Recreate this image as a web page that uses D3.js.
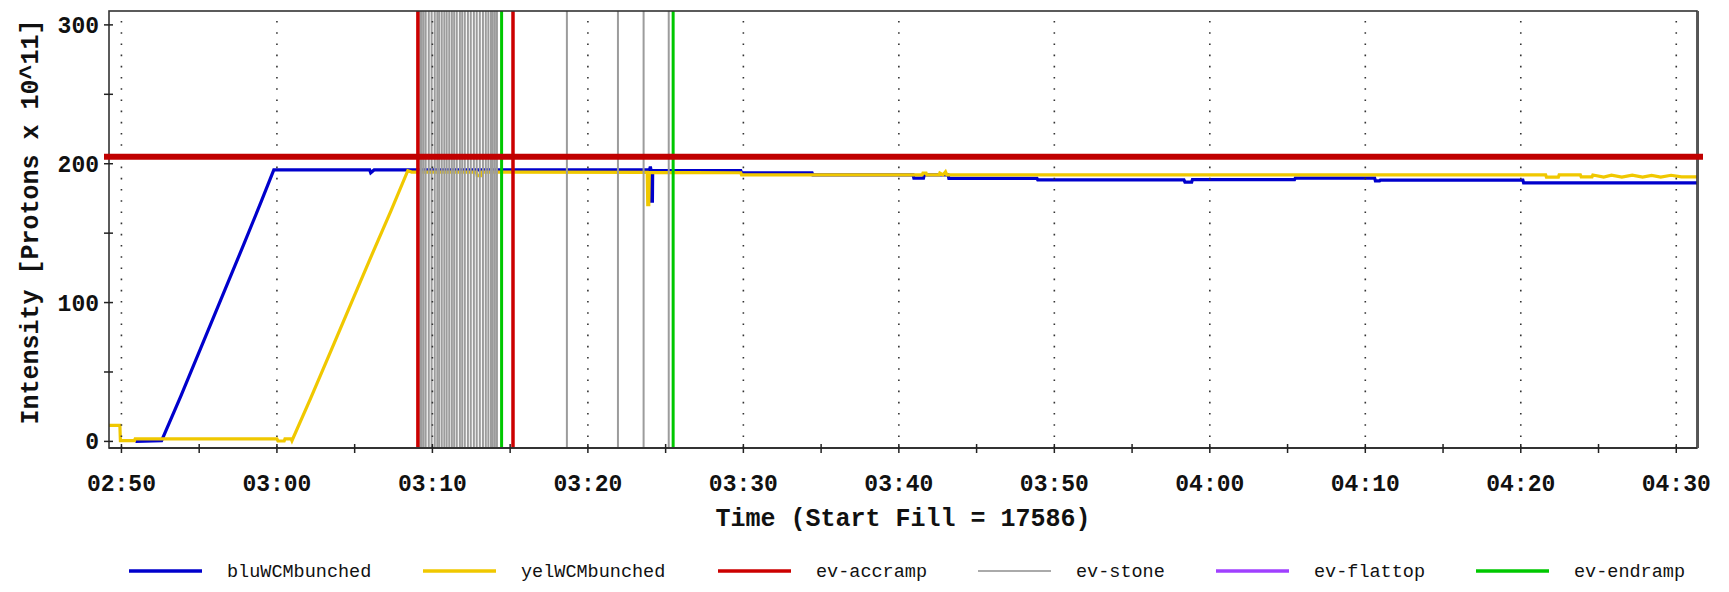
<!DOCTYPE html>
<html><head><meta charset="utf-8">
<script src="https://cdn.jsdelivr.net/npm/d3@7"></script>
<style>
body{margin:0;background:#fff;}
svg{display:block;}
text{font-family:"Liberation Mono","DejaVu Sans Mono",monospace;}
</style></head><body>
<svg id="chart" width="1729" height="592"></svg>
<script>
// ---------------- data ----------------
const xDomain = ["02:49:12", "04:31:20"];
const yDomain = [-4.75, 310];
const yMajorTicks = [0, 100, 200, 300];
const yMinorTicks = [50, 150, 250];
const xTitle = "Time (Start Fill = 17586)";
const yTitle = "Intensity [Protons x 10^11]";
const refLevel = [205];

const bluWCMbunched = [
  ["02:50:54", 0], ["02:52:35", 0.5], ["02:53:50", 33], ["02:55:10", 69], ["02:56:30", 105],
  ["02:57:50", 141], ["02:59:00", 173], ["02:59:48", 195.5], ["03:05:58", 195.5], ["03:06:02", 193.5],
  ["03:06:15", 195.5], ["03:23:58", 195.5], ["03:24:01", 198], ["03:24:04", 195], ["03:24:05", 173],
  ["03:24:09", 173], ["03:24:10", 195], ["03:29:50", 195], ["03:29:53", 193.5], ["03:34:25", 193.5],
  ["03:34:28", 192], ["03:40:55", 192], ["03:40:58", 189.6], ["03:41:35", 189.6], ["03:41:38", 192],
  ["03:43:10", 192], ["03:43:13", 189.4], ["03:48:53", 189.4], ["03:48:56", 188.4], ["03:58:20", 188.4],
  ["03:58:24", 186.8], ["03:58:50", 186.8], ["03:58:53", 188.6], ["04:05:27", 188.6], ["04:05:30", 189.7],
  ["04:10:36", 189.7], ["04:10:39", 187.6], ["04:10:55", 187.6], ["04:10:58", 188.2], ["04:20:08", 188.2],
  ["04:20:11", 186.2], ["04:31:20", 186.2]
];

const yelWCMbunched = [
  ["02:49:12", 11.5], ["02:49:54", 11.5], ["02:49:56", 0.5], ["02:50:50", 0.5], ["02:50:53", 1.8],
  ["03:00:00", 1.8], ["03:00:04", 0.3], ["03:00:28", 0.3], ["03:00:31", 1.8], ["03:00:55", 1.8],
  ["03:00:58", 0.5], ["03:02:10", 31], ["03:03:30", 66], ["03:04:50", 101], ["03:06:10", 136],
  ["03:07:20", 166], ["03:08:25", 195], ["03:08:40", 194], ["03:12:50", 194], ["03:12:53", 191.5],
  ["03:13:08", 191.5], ["03:13:11", 194], ["03:23:49", 193.8], ["03:23:51", 170.5], ["03:23:55", 170.5],
  ["03:23:57", 193.8], ["03:29:50", 193.5], ["03:29:53", 191.9], ["03:41:30", 191.9], ["03:41:33", 193.3],
  ["03:41:45", 193.3], ["03:41:48", 191.9], ["03:42:35", 191.9], ["03:42:38", 193.3], ["03:42:50", 191.9],
  ["03:43:00", 194.2], ["03:43:05", 191.9], ["04:21:36", 191.9], ["04:21:39", 190.3], ["04:22:25", 190.3],
  ["04:22:28", 191.9], ["04:23:50", 191.9], ["04:23:53", 190.6], ["04:24:35", 190.6], ["04:24:38", 191.9],
  ["04:25:20", 190.4], ["04:25:50", 191.7], ["04:26:30", 190.3], ["04:27:10", 191.8], ["04:27:50", 190.3],
  ["04:28:25", 191.6], ["04:29:00", 190.3], ["04:29:40", 191.7], ["04:30:20", 190.6], ["04:31:20", 190.6]
];

const evAccramp = ["03:09:04", "03:15:11"];
const evStone = [
  "03:09:13", "03:09:19", "03:09:26", "03:09:34", "03:09:46", "03:09:57", "03:10:09", "03:10:19",
  "03:10:26", "03:10:36", "03:10:46", "03:10:55", "03:11:05", "03:11:15", "03:11:24", "03:11:34",
  "03:11:46", "03:11:55", "03:12:05", "03:12:17", "03:12:28", "03:12:40", "03:12:51", "03:13:03",
  "03:13:15", "03:13:26", "03:13:36", "03:13:46", "03:13:53", "03:14:01", "03:14:09",
  "03:18:39", "03:21:56", "03:23:35", "03:25:12"
];
const evFlattop = [];
const evEndramp = ["03:14:27", "03:25:29"];

const legendNames = ["bluWCMbunched", "yelWCMbunched", "ev-accramp", "ev-stone", "ev-flattop", "ev-endramp"];
const legendColors = ["#0000cc", "#f0c800", "#cc0000", "#aaaaaa", "#a040ff", "#00c800"];

// ---------------- layout ----------------
const W = 1729, H = 592;
const m = {left: 109, right: 32, top: 11, bottom: 144};
const legendX = [129, 423, 718, 978, 1216, 1476];
const legendY = 571;

const parse = d3.timeParse("%H:%M:%S");
const x = d3.scaleTime().domain(xDomain.map(parse)).range([m.left, W - m.right]);
const y = d3.scaleLinear().domain(yDomain).range([H - m.bottom, m.top]);
const svg = d3.select("#chart");
const y0 = H - m.bottom;

svg.append("defs").append("clipPath").attr("id", "clip")
  .append("rect").attr("x", m.left).attr("y", m.top)
  .attr("width", W - m.left - m.right).attr("height", y0 - m.top);

// data lines
const line = d3.line().x(d => x(parse(d[0]))).y(d => y(d[1]));
const dataG = svg.append("g").attr("clip-path", "url(#clip)");
dataG.append("path").datum(bluWCMbunched).attr("d", line)
  .attr("fill", "none").attr("stroke", legendColors[0]).attr("stroke-width", 3.2);
dataG.append("path").datum(yelWCMbunched).attr("d", line)
  .attr("fill", "none").attr("stroke", legendColors[1]).attr("stroke-width", 3.2);

// event lines
function events(list, color, width) {
  svg.append("g").selectAll("line").data(list).join("line")
    .attr("x1", d => x(parse(d))).attr("x2", d => x(parse(d)))
    .attr("y1", m.top).attr("y2", y0)
    .attr("stroke", color).attr("stroke-width", width);
}
events(evStone, "#9c9c9c", 2);
events(evFlattop, legendColors[4], 3);
events(evEndramp, legendColors[5], 3);
events(evAccramp, legendColors[2], 3.5);

// dotted grid at major x ticks
const majorX = d3.timeMinute.every(10).range(x.domain()[0], x.domain()[1]);
const minorX = d3.timeMinute.every(5).range(x.domain()[0], x.domain()[1]);
svg.append("g").selectAll("line").data(majorX).join("line")
  .attr("x1", d => x(d)).attr("x2", d => x(d))
  .attr("y1", m.top + 10).attr("y2", y0)
  .attr("stroke", "#333").attr("stroke-width", 1.6)
  .attr("stroke-dasharray", "1.6 9.6");

// frame
svg.append("rect").attr("x", m.left).attr("y", m.top)
  .attr("width", W - m.left - m.right).attr("height", y0 - m.top)
  .attr("fill", "none").attr("stroke", "#333").attr("stroke-width", 1.6);
svg.append("line").attr("x1", W - m.right + 1).attr("x2", W - m.right + 1)
  .attr("y1", m.top).attr("y2", y0).attr("stroke", "#555").attr("stroke-width", 2);
svg.append("line").attr("x1", m.left).attr("x2", W - m.right)
  .attr("y1", y0).attr("y2", y0).attr("stroke", "#333").attr("stroke-width", 2);

// ticks
const tickG = svg.append("g").attr("stroke", "#222").attr("stroke-width", 1.5);
tickG.selectAll(".xt").data(minorX).join("line")
  .attr("x1", d => x(d)).attr("x2", d => x(d)).attr("y1", y0 - 4).attr("y2", y0 + 5);
tickG.selectAll(".yt").data(yMajorTicks.concat(yMinorTicks)).join("line")
  .attr("x1", m.left - 5).attr("x2", m.left + 4).attr("y1", d => y(d)).attr("y2", d => y(d));

const fmt = d3.timeFormat("%H:%M");
svg.append("g").selectAll("text").data(majorX).join("text")
  .attr("x", d => x(d)).attr("y", 491).attr("text-anchor", "middle")
  .attr("font-size", 23).attr("font-weight", "bold").attr("fill", "#111")
  .text(d => fmt(d));
svg.append("g").selectAll("text").data(yMajorTicks).join("text")
  .attr("x", 99).attr("y", d => y(d) + 8).attr("text-anchor", "end")
  .attr("font-size", 23).attr("font-weight", "bold").attr("fill", "#111")
  .text(d => d);

// titles
svg.append("text").attr("x", (m.left + W - m.right) / 2).attr("y", 526)
  .attr("text-anchor", "middle").attr("font-size", 25).attr("font-weight", "bold")
  .attr("fill", "#111").text(xTitle);
svg.append("text").attr("transform", "translate(38,222) rotate(-90)")
  .attr("text-anchor", "middle").attr("font-size", 25).attr("font-weight", "bold")
  .attr("fill", "#111").text(yTitle);

// reference level
svg.append("g").selectAll("line").data(refLevel).join("line")
  .attr("x1", m.left - 5).attr("x2", W - m.right + 6)
  .attr("y1", d => y(d)).attr("y2", d => y(d))
  .attr("stroke", "#c00000").attr("stroke-width", 6);

// legend
const lg = svg.append("g").selectAll("g").data(legendNames).join("g")
  .attr("transform", (d, i) => `translate(${legendX[i]},${legendY})`);
lg.append("line").attr("x1", 0).attr("x2", 73).attr("y1", 0).attr("y2", 0)
  .attr("stroke", (d, i) => legendColors[i]).attr("stroke-width", (d, i) => i === 3 ? 2 : 3.5);
lg.append("text").attr("x", 98).attr("y", 6).attr("font-size", 18.5).attr("fill", "#111")
  .text(d => d);
</script>
</body></html>
